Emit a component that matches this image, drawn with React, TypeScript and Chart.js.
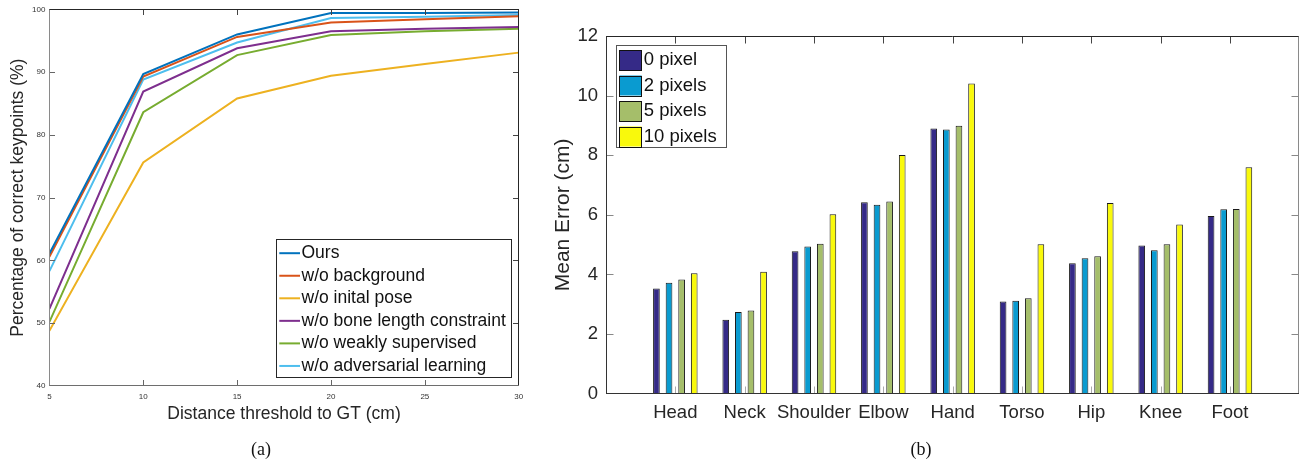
import React, { useEffect, useRef } from 'react';
import { Chart, registerables } from 'chart.js';

Chart.register(...registerables);

const FONT = '"Liberation Sans", Arial, Helvetica, sans-serif';

// ---------- Chart (a): PCK curves ----------
const thresholds = [5, 10, 15, 20, 25, 30];
const oursPck = [61.1, 89.7, 96.0, 99.4, 99.4, 99.5];
const noBackgroundPck = [60.6, 89.3, 95.6, 97.9, 98.4, 98.9];
const noInitPosePck = [48.8, 75.6, 85.8, 89.4, 91.3, 93.1];
const noBoneLengthPck = [52.3, 86.9, 93.8, 96.5, 96.9, 97.2];
const noWeakPck = [50.2, 83.6, 92.7, 95.9, 96.5, 96.9];
const noAdversarialPck = [58.3, 88.8, 94.7, 98.6, 98.8, 99.1];
const lineLabels = [
  'Ours',
  'w/o background',
  'w/o inital pose',
  'w/o bone length constraint',
  'w/o weakly supervised',
  'w/o adversarial learning',
];
const lineColors = ['#0072BD', '#D95319', '#EDB120', '#7E2F8E', '#77AC30', '#4DBEEE'];
const pckTicksX = { min: 5, max: 30, step: 5 };
const pckTicksY = { min: 40, max: 100, step: 10 };

// ---------- Chart (b): mean error bars ----------
const joints = ['Head', 'Neck', 'Shoulder', 'Elbow', 'Hand', 'Torso', 'Hip', 'Knee', 'Foot'];
const err0px = [3.53, 2.48, 4.78, 6.42, 8.90, 3.09, 4.38, 4.97, 5.96];
const err2px = [3.72, 2.74, 4.94, 6.34, 8.86, 3.12, 4.54, 4.81, 6.19];
const err5px = [3.83, 2.79, 5.03, 6.45, 8.99, 3.20, 4.61, 5.01, 6.20];
const err10px = [4.04, 4.09, 6.02, 8.01, 10.41, 5.01, 6.40, 5.68, 7.60];
const noiseLabels = ['0 pixel', '2 pixels', '5 pixels', '10 pixels'];
const barColors = ['#352A87', '#0A9BD0', '#A5BE6A', '#F9F90C'];
const errTicksY = { min: 0, max: 12, step: 2 };

type FrameCfg = {
  top: string; right: string; bottom: string; left: string;
  tickLen: number; tickColorTop: string; tickColorBottom: string; tickColorLeft: string; tickColorRight: string;
};

function makeFrame(cfg: FrameCfg) {
  return {
    id: 'frame',
    afterDatasetsDraw(chart: any) {
      const { ctx, chartArea: a, scales } = chart;
      const L = Math.round(a.left) + 0.5;
      const R = Math.round(a.right) - 0.5;
      const T = Math.round(a.top) + 0.5;
      const B = Math.round(a.bottom) - 0.5;
      ctx.save();
      ctx.lineWidth = 1;
      const seg = (x1: number, y1: number, x2: number, y2: number, c: string) => {
        ctx.strokeStyle = c;
        ctx.beginPath();
        ctx.moveTo(x1, y1);
        ctx.lineTo(x2, y2);
        ctx.stroke();
      };
      const xs = scales.x;
      xs.ticks.forEach((t: any, i: number) => {
        if (t.label === '') return;
        const px = Math.round(xs.getPixelForTick(i)) + 0.5;
        if (px <= L + 1 || px >= R - 1) return;
        seg(px, T, px, T + cfg.tickLen, cfg.tickColorTop);
        seg(px, B, px, B - cfg.tickLen, cfg.tickColorBottom);
      });
      const ys = scales.y;
      ys.ticks.forEach((_t: any, i: number) => {
        const py = Math.round(ys.getPixelForTick(i)) + 0.5;
        if (py <= T + 1 || py >= B - 1) return;
        seg(L, py, L + cfg.tickLen, py, cfg.tickColorLeft);
        seg(R, py, R - cfg.tickLen, py, cfg.tickColorRight);
      });
      seg(L - 0.5, T, R + 0.5, T, cfg.top);
      seg(R, T, R, B, cfg.right);
      seg(L - 0.5, B, R + 0.5, B, cfg.bottom);
      seg(L, T, L, B, cfg.left);
      ctx.restore();
    },
  };
}

type LegendCfg = {
  x: number; y: number; w: number; h: number; border: string;
  rowStart: number; rowStep: number; textX: number; fontSize: number;
  kind: 'line' | 'patch'; markX: number; markW: number; markH: number;
};

function makeLegend(cfg: LegendCfg) {
  return {
    id: 'insideLegend',
    afterDraw(chart: any) {
      const { ctx } = chart;
      ctx.save();
      ctx.fillStyle = '#ffffff';
      ctx.fillRect(cfg.x, cfg.y, cfg.w, cfg.h);
      ctx.strokeStyle = cfg.border;
      ctx.lineWidth = 1;
      ctx.strokeRect(Math.round(cfg.x) + 0.5, Math.round(cfg.y) + 0.5, Math.round(cfg.w), Math.round(cfg.h));
      ctx.font = `${cfg.fontSize}px ${FONT}`;
      ctx.textBaseline = 'middle';
      ctx.textAlign = 'left';
      chart.data.datasets.forEach((ds: any, i: number) => {
        const cy = cfg.rowStart + i * cfg.rowStep;
        if (cfg.kind === 'line') {
          ctx.strokeStyle = ds.borderColor;
          ctx.lineWidth = 2;
          ctx.beginPath();
          ctx.moveTo(cfg.markX, cy);
          ctx.lineTo(cfg.markX + cfg.markW, cy);
          ctx.stroke();
        } else {
          ctx.fillStyle = ds.backgroundColor;
          ctx.fillRect(cfg.markX, cy - cfg.markH / 2, cfg.markW, cfg.markH);
          ctx.strokeStyle = '#111';
          ctx.lineWidth = 1;
          ctx.strokeRect(Math.round(cfg.markX) + 0.5, Math.round(cy - cfg.markH / 2) + 0.5, Math.round(cfg.markW), Math.round(cfg.markH));
        }
        ctx.fillStyle = '#111';
        ctx.fillText(ds.label, cfg.textX, cy);
      });
      ctx.restore();
    },
  };
}

export default function App() {
  const leftRef = useRef<HTMLCanvasElement | null>(null);
  const rightRef = useRef<HTMLCanvasElement | null>(null);

  useEffect(() => {
    const series = [oursPck, noBackgroundPck, noInitPosePck, noBoneLengthPck, noWeakPck, noAdversarialPck];
    const left = new Chart(leftRef.current as HTMLCanvasElement, {
      type: 'line',
      data: {
        datasets: series.map((vals, i) => ({
          label: lineLabels[i],
          data: thresholds.map((x, j) => ({ x, y: vals[j] })),
          borderColor: lineColors[i],
          backgroundColor: lineColors[i],
          borderWidth: 2,
          pointRadius: 0,
          tension: 0,
          fill: false,
        })),
      },
      options: {
        responsive: false,
        animation: false,
        layout: { padding: { left: 0, top: 9.3, right: 21.3, bottom: 0 } },
        plugins: { legend: { display: false }, tooltip: { enabled: false } },
        scales: {
          x: {
            type: 'linear',
            min: pckTicksX.min,
            max: pckTicksX.max,
            ticks: { stepSize: pckTicksX.step, padding: 0, maxRotation: 0, color: '#333', font: { family: FONT, size: 8 } },
            grid: { display: false, drawTicks: true, tickLength: 5.5 },
            border: { display: false },
            title: {
              display: true,
              text: 'Distance threshold to GT (cm)',
              color: '#262626',
              font: { family: FONT, size: 17.5 },
              padding: { top: 0, bottom: 39.5 },
            },
            afterFit: (s: any) => { s.height = 78; },
          },
          y: {
            type: 'linear',
            min: pckTicksY.min,
            max: pckTicksY.max,
            ticks: { stepSize: pckTicksY.step, padding: 0, color: '#333', font: { family: FONT, size: 8 } },
            grid: { display: false, drawTicks: true, tickLength: 4 },
            border: { display: false },
            title: {
              display: true,
              text: 'Percentage of correct keypoints (%)',
              color: '#262626',
              font: { family: FONT, size: 17.5 },
              padding: { top: 8, bottom: 0 },
            },
            afterFit: (s: any) => { s.width = 49.4; },
          },
        },
      } as any,
      plugins: [
        makeFrame({
          top: '#262626', right: '#262626', bottom: '#6e6e6e', left: '#8a8a8a',
          tickLen: 5.5, tickColorTop: '#444', tickColorBottom: '#666', tickColorLeft: '#666', tickColorRight: '#444',
        }),
        makeLegend({
          x: 276, y: 239.3, w: 234.7, h: 138, border: '#262626',
          rowStart: 253.2, rowStep: 22.55, textX: 301.5, fontSize: 17.5,
          kind: 'line', markX: 279.3, markW: 20.7, markH: 0,
        }),
      ],
    });

    const withEnds = (v: number[]) => [null, ...v, null];
    const errSeries = [err0px, err2px, err5px, err10px];
    const right = new Chart(rightRef.current as HTMLCanvasElement, {
      type: 'bar',
      data: {
        labels: ['', ...joints, ''],
        datasets: errSeries.map((vals, i) => ({
          label: noiseLabels[i],
          data: withEnds(vals),
          backgroundColor: barColors[i],
          borderColor: '#1a1a1a',
          borderWidth: 1,
          categoryPercentage: 0.727,
          barPercentage: 0.53,
        })),
      },
      options: {
        responsive: false,
        animation: false,
        layout: { padding: { left: 0, top: 36, right: 2.7, bottom: 0 } },
        plugins: { legend: { display: false }, tooltip: { enabled: false } },
        scales: {
          x: {
            type: 'category',
            offset: false,
            ticks: { autoSkip: false, maxRotation: 0, minRotation: 0, padding: 0, color: '#262626', font: { family: FONT, size: 18.5 } },
            grid: { display: false, drawTicks: true, tickLength: 8.2 },
            border: { display: false },
            afterFit: (s: any) => { s.height = 70.3; },
          },
          y: {
            type: 'linear',
            min: errTicksY.min,
            max: errTicksY.max,
            ticks: { stepSize: errTicksY.step, padding: 0, color: '#262626', font: { family: FONT, size: 18.5 } },
            grid: { display: false, drawTicks: true, tickLength: 8 },
            border: { display: false },
            title: {
              display: true,
              text: 'Mean Error (cm)',
              color: '#262626',
              font: { family: FONT, size: 21 },
              padding: { top: 10.4, bottom: 0 },
            },
            afterFit: (s: any) => { s.width = 66; },
          },
        },
      } as any,
      plugins: [
        makeFrame({
          top: '#262626', right: '#8a8a8a', bottom: '#333', left: '#333',
          tickLen: 7, tickColorTop: '#444', tickColorBottom: '#aaa', tickColorLeft: '#888', tickColorRight: '#888',
        }),
        makeLegend({
          x: 76, y: 45.3, w: 109.7, h: 102.4, border: '#555',
          rowStart: 60, rowStep: 25.5, textX: 103.7, fontSize: 18.5,
          kind: 'patch', markX: 79.3, markW: 22.4, markH: 20,
        }),
      ],
    });

    return () => {
      left.destroy();
      right.destroy();
    };
  }, []);

  const caption: React.CSSProperties = {
    position: 'absolute',
    top: 438,
    width: 100,
    textAlign: 'center',
    fontFamily: '"Liberation Serif", "Times New Roman", serif',
    fontSize: 18,
    lineHeight: '22px',
    color: '#111',
  };

  return (
    <div style={{ position: 'absolute', left: 0, top: 0, width: 1302, height: 464, background: '#fff', overflow: 'hidden' }}>
      <canvas ref={leftRef} width={540} height={464} style={{ position: 'absolute', left: 0, top: 0 }} />
      <canvas ref={rightRef} width={762} height={464} style={{ position: 'absolute', left: 540, top: 0 }} />
      <div style={{ ...caption, left: 211 }}>(a)</div>
      <div style={{ ...caption, left: 871 }}>(b)</div>
    </div>
  );
}
